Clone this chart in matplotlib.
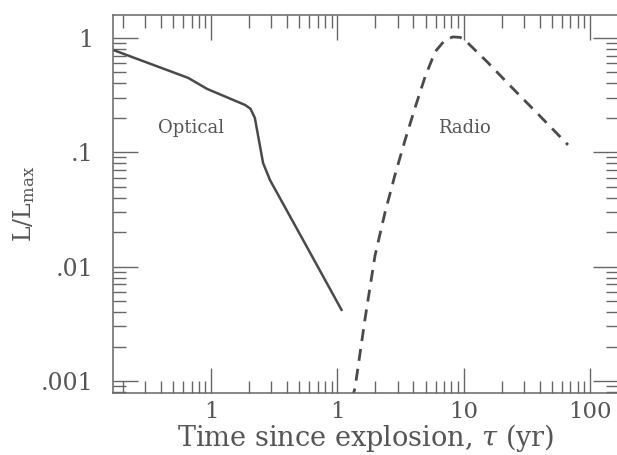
import matplotlib
matplotlib.use("Agg")
import matplotlib.pyplot as plt
from matplotlib.ticker import LogLocator, FixedLocator, NullFormatter

# light curves (time in yr, L/Lmax)
opt_t = [0.0167, 0.0658, 0.093, 0.186, 0.205, 0.222, 0.258, 0.293, 0.575, 1.09]
opt_L = [0.785, 0.447, 0.358, 0.259, 0.240, 0.200, 0.0805, 0.057, 0.0148, 0.0041]

radio_t = [1.30, 1.38, 1.66, 1.99, 2.39, 2.86, 3.44, 4.12, 4.95, 5.94, 7.13,
           8.24, 9.4, 10.3, 15.3, 24.6, 40.3, 67.1]
radio_L = [0.00068, 0.00087, 0.00355, 0.0126, 0.030, 0.0633, 0.128, 0.244,
           0.456, 0.755, 0.96, 1.02, 1.01, 0.95, 0.62, 0.36, 0.207, 0.116]

xticks = [0.1, 1, 10, 100]
xlabels = ["1", "1", "10", "100"]
yticks = [0.001, 0.01, 0.1, 1]
ylabels = [".001", ".01", ".1", "1"]

plt.rcParams["font.family"] = "DejaVu Serif"
plt.rcParams["mathtext.fontset"] = "dejavuserif"

ink = "#555555"
fig = plt.figure(figsize=(6.17, 4.55), dpi=100)
ax = fig.add_axes([0.1831, 0.1363, 0.8185, 0.8307])

ax.plot(opt_t, opt_L, color="#4a4a4a", lw=1.8, solid_capstyle="butt")
ax.plot(radio_t, radio_L, color="#4a4a4a", lw=2.0, dashes=(4.3, 2.9))

ax.set_xscale("log")
ax.set_yscale("log")
ax.set_xlim(0.0167, 167)
ax.set_ylim(10 ** -3.105, 10 ** 0.2)

ax.xaxis.set_major_locator(FixedLocator(xticks))
ax.set_xticklabels(xlabels)
ax.yaxis.set_major_locator(FixedLocator(yticks))
ax.set_yticklabels(ylabels)
for a in (ax.xaxis, ax.yaxis):
    a.set_minor_locator(LogLocator(base=10, subs=range(2, 10), numticks=20))
    a.set_minor_formatter(NullFormatter())

ax.tick_params(which="both", direction="in", top=True, right=True,
               color="#666666", width=1.0, labelcolor=ink, labelsize=17)
ax.tick_params(which="major", length=18)
ax.tick_params(which="minor", length=9)
ax.tick_params(axis="y", pad=14)
ax.tick_params(axis="x", pad=6, labelsize=16.5)
for s in ax.spines.values():
    s.set_color("#666666")
    s.set_linewidth(1.1)

ax.text(0.038, 0.163, "Optical", fontsize=13, color=ink, ha="left", va="center")
ax.text(10.1, 0.163, "Radio", fontsize=13, color=ink, ha="center", va="center")

ax.set_xlabel(r"Time since explosion, $\tau$ (yr)", fontsize=19.5, color=ink,
              labelpad=-1)
ax.set_ylabel(r"L/L$_{\rm max}$", fontsize=17, color=ink, labelpad=3)

fig.savefig("out.png", dpi=100)
